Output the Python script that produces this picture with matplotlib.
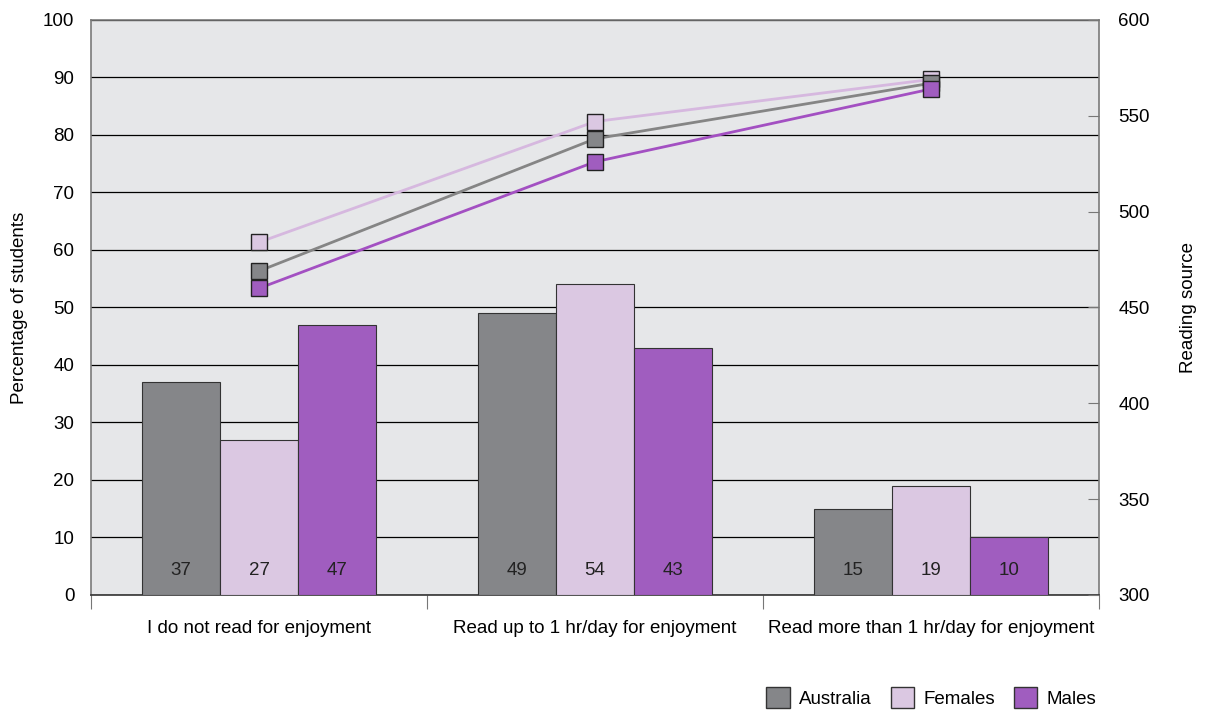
import numpy as np
import matplotlib
matplotlib.use("Agg")
import matplotlib.pyplot as plt
from matplotlib.patches import Patch

plt.rcParams.update({
    "font.family": ["Liberation Sans", "DejaVu Sans"],
    "font.size": 13.5,
})

categories = [
    "I do not read for enjoyment",
    "Read up to 1 hr/day for enjoyment",
    "Read more than 1 hr/day for enjoyment",
]
series = ["Australia", "Females", "Males"]

# percentage of students (bars, left axis)
pct_australia = [37, 49, 15]
pct_females = [27, 54, 19]
pct_males = [47, 43, 10]

# reading score (lines, right axis)
score_australia = [469, 538, 567]
score_females = [484, 547, 569]
score_males = [460, 526, 564]

bar_colors = ["#858689", "#dbc8e2", "#a05dbf"]
line_colors = ["#858585", "#d6b8df", "#a350c2"]

fig = plt.figure(figsize=(12.1, 7.11), dpi=100)
ax = fig.add_axes([0.0752, 0.1632, 0.8331, 0.8087])
ax.set_facecolor("#e6e7e9")

x = np.arange(len(categories))
width = 0.233
pcts = [pct_australia, pct_females, pct_males]
for i, (vals, col) in enumerate(zip(pcts, bar_colors)):
    pos = x + (i - 1) * width
    ax.bar(pos, vals, width=width, color=col, edgecolor="#333333",
           linewidth=0.8, zorder=3)
    for p, v in zip(pos, vals):
        ax.text(p, 4.3, f"{v}", ha="center", va="center",
                color="#222222", zorder=4)

ax.set_xlim(-0.5, 2.5)
ax.set_ylim(0, 100)
ax.set_yticks(np.arange(0, 101, 10))
ax.yaxis.grid(True, color="black", linewidth=0.9, zorder=1)
ax.set_axisbelow(True)
ax.set_ylabel("Percentage of students")
ax.yaxis.set_label_coords(-0.0625, 0.5)
ax.tick_params(axis="y", length=0, pad=12)

ax.set_xticks([-0.5, 0.5, 1.5, 2.5])
ax.set_xticklabels([])
ax.set_xticks(x, minor=True)
ax.set_xticklabels(categories, minor=True)
ax.tick_params(axis="x", which="major", length=10, color="#777777", direction="out")
ax.tick_params(axis="x", which="minor", length=0, pad=18)

for s in ax.spines.values():
    s.set_color("#7a7a7a")
    s.set_linewidth(1.2)
ax.spines["bottom"].set_color("#333333")

ax2 = ax.twinx()
ax2.set_ylim(300, 600)
ax2.set_yticks(np.arange(300, 601, 50))
ax2.tick_params(axis="y", direction="in", length=8, color="#777777", pad=14)
ax2.set_ylabel("Reading source")
ax2.yaxis.set_label_coords(1.0804, 0.5)
for s in ax2.spines.values():
    s.set_visible(False)

scores = [score_australia, score_females, score_males]
order = [1, 0, 2]
for i in order:
    ax2.plot(x, scores[i], color=line_colors[i], linewidth=2, zorder=3)
for i in order:
    ax2.plot(x, scores[i], linestyle="none", marker="s", markersize=12,
             markerfacecolor=bar_colors[i], markeredgecolor="#222222",
             markeredgewidth=1.0, zorder=4)

handles = [Patch(facecolor=c, edgecolor="#333333", label=l)
           for c, l in zip(bar_colors, series)]
fig.legend(handles=handles, loc="lower right", bbox_to_anchor=(0.92, -0.02),
           ncol=3, frameon=False, handlelength=1.25, handleheight=1.4,
           columnspacing=1.0, handletextpad=0.5)

fig.savefig("out.png", dpi=100)
